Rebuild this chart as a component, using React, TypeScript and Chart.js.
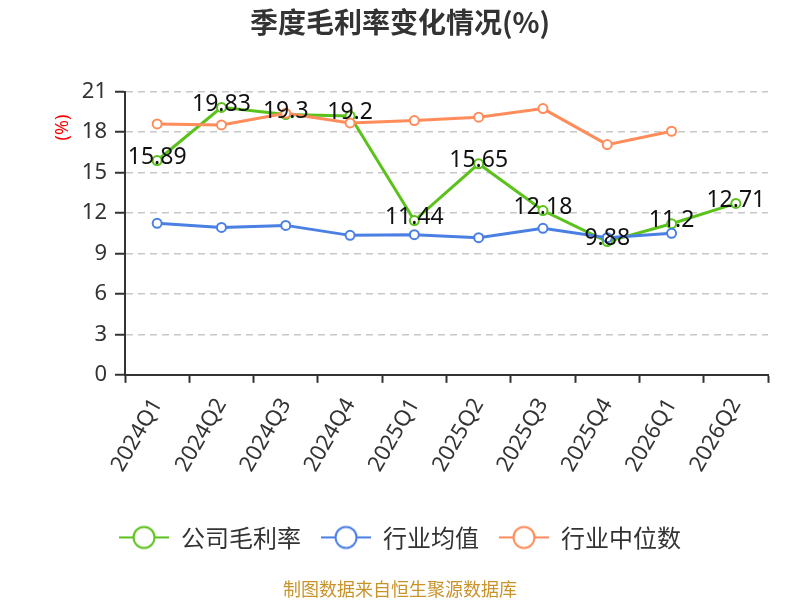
import React, { useEffect, useRef } from "react";
import { Chart, registerables } from "chart.js";

Chart.register(...registerables);

const quarters = ["2024Q1", "2024Q2", "2024Q3", "2024Q4", "2025Q1", "2025Q2", "2025Q3", "2025Q4", "2026Q1", "2026Q2"];
const companyMargin = [15.89, 19.83, 19.3, 19.2, 11.44, 15.65, 12.18, 9.88, 11.2, 12.71];
const industryAvg = [11.23, 10.93, 11.08, 10.34, 10.39, 10.17, 10.86, 10.17, 10.49, null];
const industryMedian = [18.6, 18.53, 19.39, 18.68, 18.85, 19.1, 19.74, 17.07, 18.06, null];
const seriesNames = ["公司毛利率", "行业均值", "行业中位数"];
const seriesColors = ["#5bc21c", "#4a7fe3", "#ff8c5a"];
const yMax = 21;
const yStep = 3;

const FONT = "'Noto Sans', 'Noto Sans CJK SC', sans-serif";
const CJK = "'Noto Sans CJK SC', sans-serif";

// legend icon: short line with a hollow circle in the middle
const makeIcon = (color: string) => {
  const c = document.createElement("canvas");
  c.width = 50;
  c.height = 26;
  const g = c.getContext("2d")!;
  g.strokeStyle = color;
  g.lineWidth = 2;
  g.beginPath();
  g.moveTo(0, 13);
  g.lineTo(50, 13);
  g.stroke();
  g.beginPath();
  g.arc(25, 13, 10.5, 0, Math.PI * 2);
  g.fillStyle = "#fff";
  g.fill();
  g.stroke();
  return c;
};

const valueLabels = {
  id: "valueLabels",
  afterDatasetsDraw(chart: any) {
    const ctx = chart.ctx;
    const meta = chart.getDatasetMeta(0);
    ctx.save();
    ctx.font = `23px ${FONT}`;
    ctx.fillStyle = "#111";
    ctx.textAlign = "center";
    ctx.textBaseline = "middle";
    meta.data.forEach((pt: any, i: number) => {
      ctx.fillText(String(companyMargin[i]), pt.x, pt.y - 3);
    });
    ctx.restore();
  },
};

const unitLabel = {
  id: "unitLabel",
  afterDraw(chart: any) {
    const ctx = chart.ctx;
    ctx.save();
    ctx.translate(63, chart.chartArea.top + 36);
    ctx.rotate(-Math.PI / 2);
    ctx.font = `18px ${FONT}`;
    ctx.fillStyle = "#ff0000";
    ctx.textAlign = "center";
    ctx.textBaseline = "middle";
    ctx.fillText("(%)", 0, 0);
    ctx.restore();
  },
};

const App: React.FC = () => {
  const canvasRef = useRef<HTMLCanvasElement | null>(null);

  useEffect(() => {
    if (!canvasRef.current) return;
    const icons = seriesColors.map(makeIcon);
    const mk = (i: number, data: (number | null)[], order: number) => ({
      label: seriesNames[i],
      data,
      borderColor: seriesColors[i],
      backgroundColor: "#fff",
      pointBackgroundColor: "#fff",
      pointBorderColor: seriesColors[i],
      borderWidth: 3,
      pointRadius: 4.5,
      pointBorderWidth: 2,
      tension: 0,
      order,
    });

    const chart = new Chart(canvasRef.current, {
      type: "line",
      data: {
        labels: quarters,
        datasets: [mk(0, companyMargin, 3), mk(1, industryAvg, 2), mk(2, industryMedian, 1)],
      },
      options: {
        animation: false,
        responsive: true,
        maintainAspectRatio: false,
        layout: { padding: { left: 32, right: 32, top: 0, bottom: 0 } },
        plugins: {
          title: {
            display: true,
            text: "季度毛利率变化情况(%)",
            color: "#333",
            font: { size: 28, weight: "bold", family: CJK },
            padding: { top: 6, bottom: 52 },
          },
          subtitle: {
            display: true,
            position: "bottom",
            text: "制图数据来自恒生聚源数据库",
            color: "#c9932b",
            font: { size: 18, family: CJK },
            padding: { top: 19, bottom: 0 },
          },
          legend: {
            position: "bottom",
            title: {
              display: true,
              text: " ",
              font: { size: 10 },
              padding: { top: 6, bottom: 0 },
            },
            labels: {
              usePointStyle: true,
              pointStyleWidth: 50,
              boxHeight: 24,
              padding: 20,
              color: "#333",
              font: { size: 24, family: CJK },
              generateLabels: () =>
                seriesNames.map((name, i) => ({
                  text: name,
                  datasetIndex: i,
                  pointStyle: icons[i],
                  fillStyle: "#fff",
                  strokeStyle: seriesColors[i],
                  lineWidth: 0,
                  fontColor: "#333",
                  hidden: false,
                })),
            },
          },
          tooltip: { enabled: false },
        },
        scales: {
          x: {
            offset: true,
            grid: {
              offset: true,
              drawOnChartArea: false,
              tickColor: "#333",
              tickLength: 8,
              tickWidth: 2,
            },
            border: { color: "#333", width: 2 },
            ticks: {
              color: "#333",
              font: { size: 22, family: FONT },
              minRotation: 60,
              maxRotation: 60,
              padding: 11,
              autoSkip: false,
            },
          },
          y: {
            min: 0,
            max: yMax,
            afterFit: (scale: any) => {
              scale.width = 93;
            },
            grid: {
              color: "#c8c8c8",
              lineWidth: 1.5,
              tickColor: "#333",
              tickLength: 10,
              tickWidth: 2,
              tickBorderDash: [],
            },
            border: { color: "#333", width: 2, dash: [7, 5] },
            ticks: {
              stepSize: yStep,
              color: "#333",
              font: { size: 22, family: FONT },
              padding: 8,
            },
          },
        },
      },
      plugins: [valueLabels, unitLabel],
    });

    return () => {
      chart.destroy();
    };
  }, []);

  return (
    <div style={{ position: "fixed", left: 0, top: 0, width: 800, height: 600, background: "#fff" }}>
      <canvas ref={canvasRef}></canvas>
    </div>
  );
};

export default App;
